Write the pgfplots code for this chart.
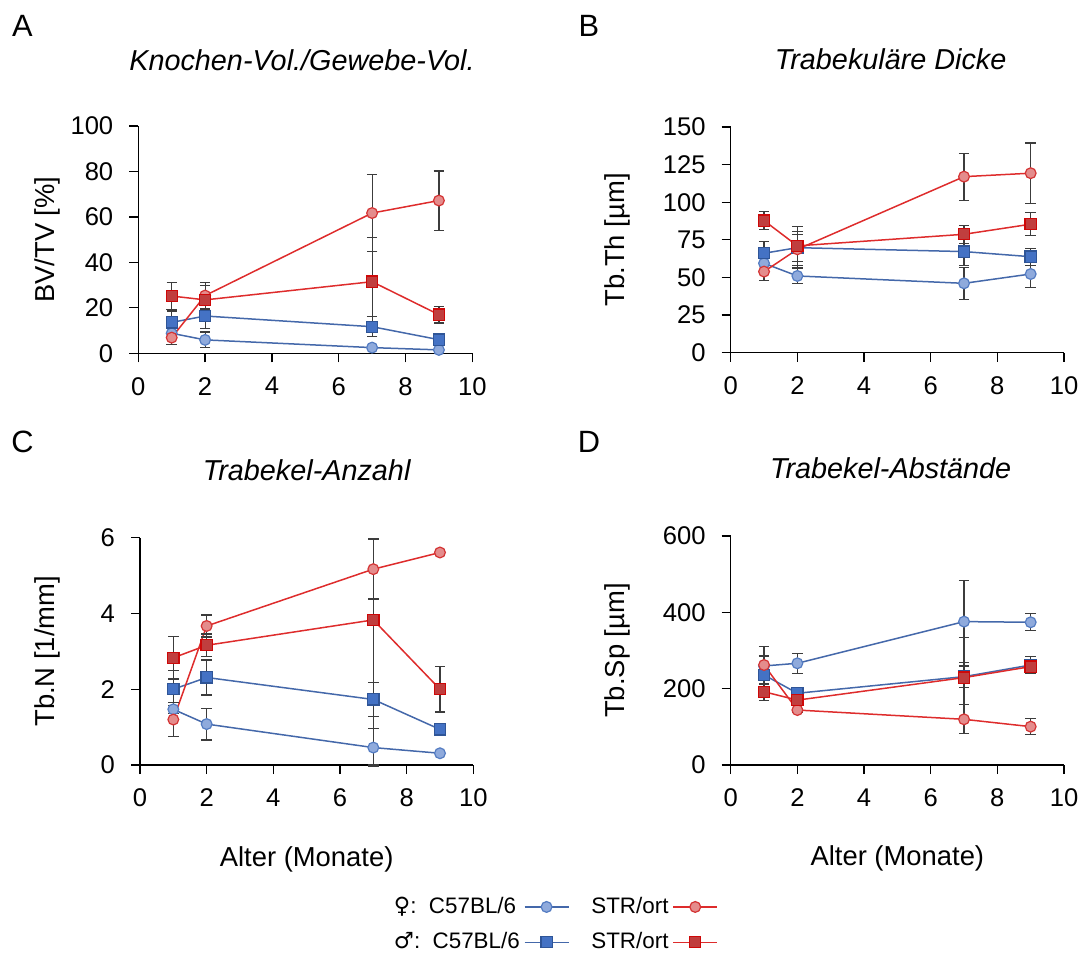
\documentclass[border=0pt]{standalone}
\usepackage{fontspec}
\setmainfont{Liberation Sans}
\newfontfamily\dejavu{DejaVu Sans}
\usepackage{pgfplots}
\usepackage{pgfplotstable}
\pgfplotsset{compat=1.18}

\definecolor{bline}{RGB}{68,104,170}
\definecolor{bcfill}{RGB}{143,170,220}
\definecolor{bcedge}{RGB}{84,124,194}
\definecolor{bsfill}{RGB}{68,114,196}
\definecolor{bsedge}{RGB}{47,85,151}
\definecolor{rline}{RGB}{222,44,44}
\definecolor{rcfill}{RGB}{228,140,140}
\definecolor{rcedge}{RGB}{212,52,52}
\definecolor{rsfill}{RGB}{192,62,62}
\definecolor{rsedge}{RGB}{206,8,8}
\definecolor{ebar}{RGB}{60,60,60}

% ---------------- data: x, mean, error plus, error minus ----------------
\pgfplotstableread{
x y ep em
1 8.8 2 2
2 5.9 3.5 3.5
7 2.5 1 1
9 1.5 0.5 0.5
}\Abc
\pgfplotstableread{
x y ep em
1 13.6 5 5
2 16.4 5.5 5.5
7 11.7 4.4 4.4
9 6.0 1.5 1.5
}\Abs
\pgfplotstableread{
x y ep em
1 6.9 3.2 3.2
2 25.4 5.9 5.9
7 61.7 17 17
9 67.2 13 13
}\Arc
\pgfplotstableread{
x y ep em
1 25.2 6 6
2 23.5 6.3 6.3
7 31.5 19.4 19.4
9 17.0 3.7 3.7
}\Ars

\pgfplotstableread{
x y ep em
1 59.4 6 6
2 51.0 5 5
7 46.1 10.6 10.6
9 52.3 9 9
}\Bbc
\pgfplotstableread{
x y ep em
1 66.1 8 8
2 69.8 9 9
7 67.2 9 9
9 63.8 5.6 5.6
}\Bbs
\pgfplotstableread{
x y ep em
1 53.9 6 6
2 68.7 12 12
7 117.0 15.6 15.6
9 119.3 20 20
}\Brc
\pgfplotstableread{
x y ep em
1 87.8 6 6
2 71.0 13 13
7 78.7 6 6
9 85.4 7.7 7.7
}\Brs

\pgfplotstableread{
x y ep em
1 1.47 0.1 0.1
2 1.08 0.42 0.42
7 0.46 0.5 0.5
9 0.31 0.05 0.05
}\Cbc
\pgfplotstableread{
x y ep em
1 2.00 0.5 0.5
2 2.31 0.46 0.46
7 1.73 0.44 0.44
9 0.94 0.1 0.1
}\Cbs
\pgfplotstableread{
x y ep em
1 1.20 0.45 0.45
2 3.67 0.29 0.29
7 5.17 0.79 0.79
9 5.61 0.08 0.08
}\Crc
\pgfplotstableread{
x y ep em
1 2.83 0.56 0.56
2 3.16 0.3 0.3
7 3.83 2.15 3.83
9 2.00 0.6 0.6
}\Crs

\pgfplotstableread{
x y ep em
1 259.5 26 26
2 266.5 26 26
7 375.7 107 107
9 374.0 22 22
}\Dbc
\pgfplotstableread{
x y ep em
1 236 25 25
2 188 8 8
7 231.5 28 28
9 262 22 22
}\Dbs
\pgfplotstableread{
x y ep em
1 262 48 48
2 144 5 5
7 119.7 38 38
9 100.5 21 21
}\Drc
\pgfplotstableread{
x y ep em
1 192 22 22
2 170 10 10
7 229 105 105
9 257.8 18 18
}\Drs

\newcommand{\tfont}{\fontsize{12.8}{15}\selectfont}
\newcommand{\lfont}{\fontsize{13.7}{16}\selectfont}
\newcommand{\hfont}{\fontsize{14.4}{17}\selectfont}
\newcommand{\gfont}{\fontsize{11.2}{13.5}\selectfont}

\pgfplotsset{
  panel/.style={
    scale only axis, xmin=0, xmax=10,
    axis lines*=left,
    axis line style={black, line width=0.65pt},
    tick align=outside, major tick length=4.5pt,
    tick style={black, line width=0.65pt},
    xtick={0,2,...,10}, minor tick num=0,
    tick label style={font=\tfont},
    xticklabel style={yshift=-4pt},
    yticklabel style={xshift=-4.5pt},
    label style={font=\lfont},
    /pgf/number format/assume math mode=true,
    clip=false,
    title style={font=\hfont\itshape, anchor=center},
  },
  ebars/.style={error bars/.cd, y dir=both, y explicit,
    error bar style={ebar, line width=0.6pt},
    error mark options={rotate=90, mark size=2.6pt, ebar, line width=0.6pt}},
  sbc/.style={bline, line width=0.75pt, mark=*, mark size=2.7pt,
    mark options={fill=bcfill, draw=bcedge, line width=0.6pt}},
  sbs/.style={bline, line width=0.75pt, mark=square*, mark size=2.8pt,
    mark options={fill=bsfill, draw=bsedge, line width=0.6pt}},
  src/.style={rline, line width=0.75pt, mark=*, mark size=2.7pt,
    mark options={fill=rcfill, draw=rcedge, line width=0.6pt}},
  srs/.style={rline, line width=0.75pt, mark=square*, mark size=2.8pt,
    mark options={fill=rsfill, draw=rsedge, line width=0.6pt}},
}

\begin{document}
\begin{tikzpicture}
\path (0pt,0pt) rectangle (543pt,477.5pt);

\node[font=\fontsize{15.4}{18}\selectfont] at (11.25pt,464.5pt) {A};
\node[font=\fontsize{15.4}{18}\selectfont] at (294.5pt,464.5pt) {B};
\node[font=\fontsize{15.4}{18}\selectfont] at (11.25pt,256.5pt) {C};
\node[font=\fontsize{15.4}{18}\selectfont] at (294.5pt,256.5pt) {D};

% ---------------- A ----------------
\begin{axis}[panel, at={(69.15pt,300.85pt)}, anchor=south west,
  width=167pt, height=113.65pt,
  ymin=0, ymax=100, ytick={0,20,...,100},
  title={Knochen-Vol./Gewebe-Vol.},
  title style={at={(axis description cs:0.49,1)}, yshift=27pt},
  ylabel={BV/TV [\%]},
  ylabel style={at={(axis description cs:-0.273,0.5)}, anchor=center},
]
\addplot[sbc, ebars] table[x=x,y=y,y error plus=ep,y error minus=em]{\Abc};
\addplot[sbs, ebars] table[x=x,y=y,y error plus=ep,y error minus=em]{\Abs};
\addplot[src, ebars] table[x=x,y=y,y error plus=ep,y error minus=em]{\Arc};
\addplot[srs, ebars] table[x=x,y=y,y error plus=ep,y error minus=em]{\Ars};
\end{axis}

% ---------------- B ----------------
\begin{axis}[panel, at={(365.35pt,301.15pt)}, anchor=south west,
  width=166.65pt, height=112.85pt,
  ymin=0, ymax=150, ytick={0,25,...,150},
  title={Trabekuläre Dicke},
  title style={at={(axis description cs:0.48,1)}, yshift=28pt},
  ylabel={Tb.Th [µm]},
  ylabel style={at={(axis description cs:-0.341,0.5)}, anchor=center},
]
\addplot[sbc, ebars] table[x=x,y=y,y error plus=ep,y error minus=em]{\Bbc};
\addplot[sbs, ebars] table[x=x,y=y,y error plus=ep,y error minus=em]{\Bbs};
\addplot[src, ebars] table[x=x,y=y,y error plus=ep,y error minus=em]{\Brc};
\addplot[srs, ebars] table[x=x,y=y,y error plus=ep,y error minus=em]{\Brs};
\end{axis}

% ---------------- C ----------------
\begin{axis}[panel, at={(70pt,95pt)}, anchor=south west,
  width=166.65pt, height=113.65pt,
  ymin=0, ymax=6, ytick={0,2,...,6},
  title={Trabekel-Anzahl},
  title style={at={(axis description cs:0.5,1)}, yshift=28pt},
  ylabel={Tb.N [1/mm]},
  ylabel style={at={(axis description cs:-0.278,0.5)}, anchor=center},
  xlabel={Alter (Monate)},
  xlabel style={at={(axis description cs:0.5,-0.414)}, anchor=center},
  legend columns=2, legend plot pos=right, legend cell align=left,
  legend style={at={(axis description cs:1.242,-0.702)}, anchor=center,
    draw=none, fill=none, font=\gfont,
    /tikz/every even column/.append style={column sep=9pt},
    row sep=4pt},
  legend image code/.code={\draw[mark repeat=2,mark phase=2]
     plot coordinates {(0pt,0pt) (11pt,0pt) (22pt,0pt)};},
]
\addplot[forget plot, sbc, ebars] table[x=x,y=y,y error plus=ep,y error minus=em]{\Cbc};
\addplot[forget plot, sbs, ebars] table[x=x,y=y,y error plus=ep,y error minus=em]{\Cbs};
\addplot[forget plot, src, ebars] table[x=x,y=y,y error plus=ep,y error minus=em]{\Crc};
\addplot[forget plot, srs, ebars] table[x=x,y=y,y error plus=ep,y error minus=em]{\Crs};
\addlegendimage{sbc}
\addlegendentry{{\dejavu ♀}:\ \ C57BL/6}
\addlegendimage{src}
\addlegendentry{STR/ort}
\addlegendimage{sbs}
\addlegendentry{{\dejavu ♂}:\ \ C57BL/6}
\addlegendimage{srs}
\addlegendentry{STR/ort}
\end{axis}

% ---------------- D ----------------
\begin{axis}[panel, at={(365.35pt,95pt)}, anchor=south west,
  width=166.65pt, height=114.5pt,
  ymin=0, ymax=600, ytick={0,200,...,600},
  title={Trabekel-Abstände},
  title style={at={(axis description cs:0.48,1)}, yshift=28pt},
  ylabel={Tb.Sp [µm]},
  ylabel style={at={(axis description cs:-0.341,0.5)}, anchor=center},
  xlabel={Alter (Monate)},
  xlabel style={at={(axis description cs:0.5,-0.41)}, anchor=center},
]
\addplot[sbc, ebars] table[x=x,y=y,y error plus=ep,y error minus=em]{\Dbc};
\addplot[sbs, ebars] table[x=x,y=y,y error plus=ep,y error minus=em]{\Dbs};
\addplot[src, ebars] table[x=x,y=y,y error plus=ep,y error minus=em]{\Drc};
\addplot[srs, ebars] table[x=x,y=y,y error plus=ep,y error minus=em]{\Drs};
\end{axis}
\end{tikzpicture}
\end{document}
